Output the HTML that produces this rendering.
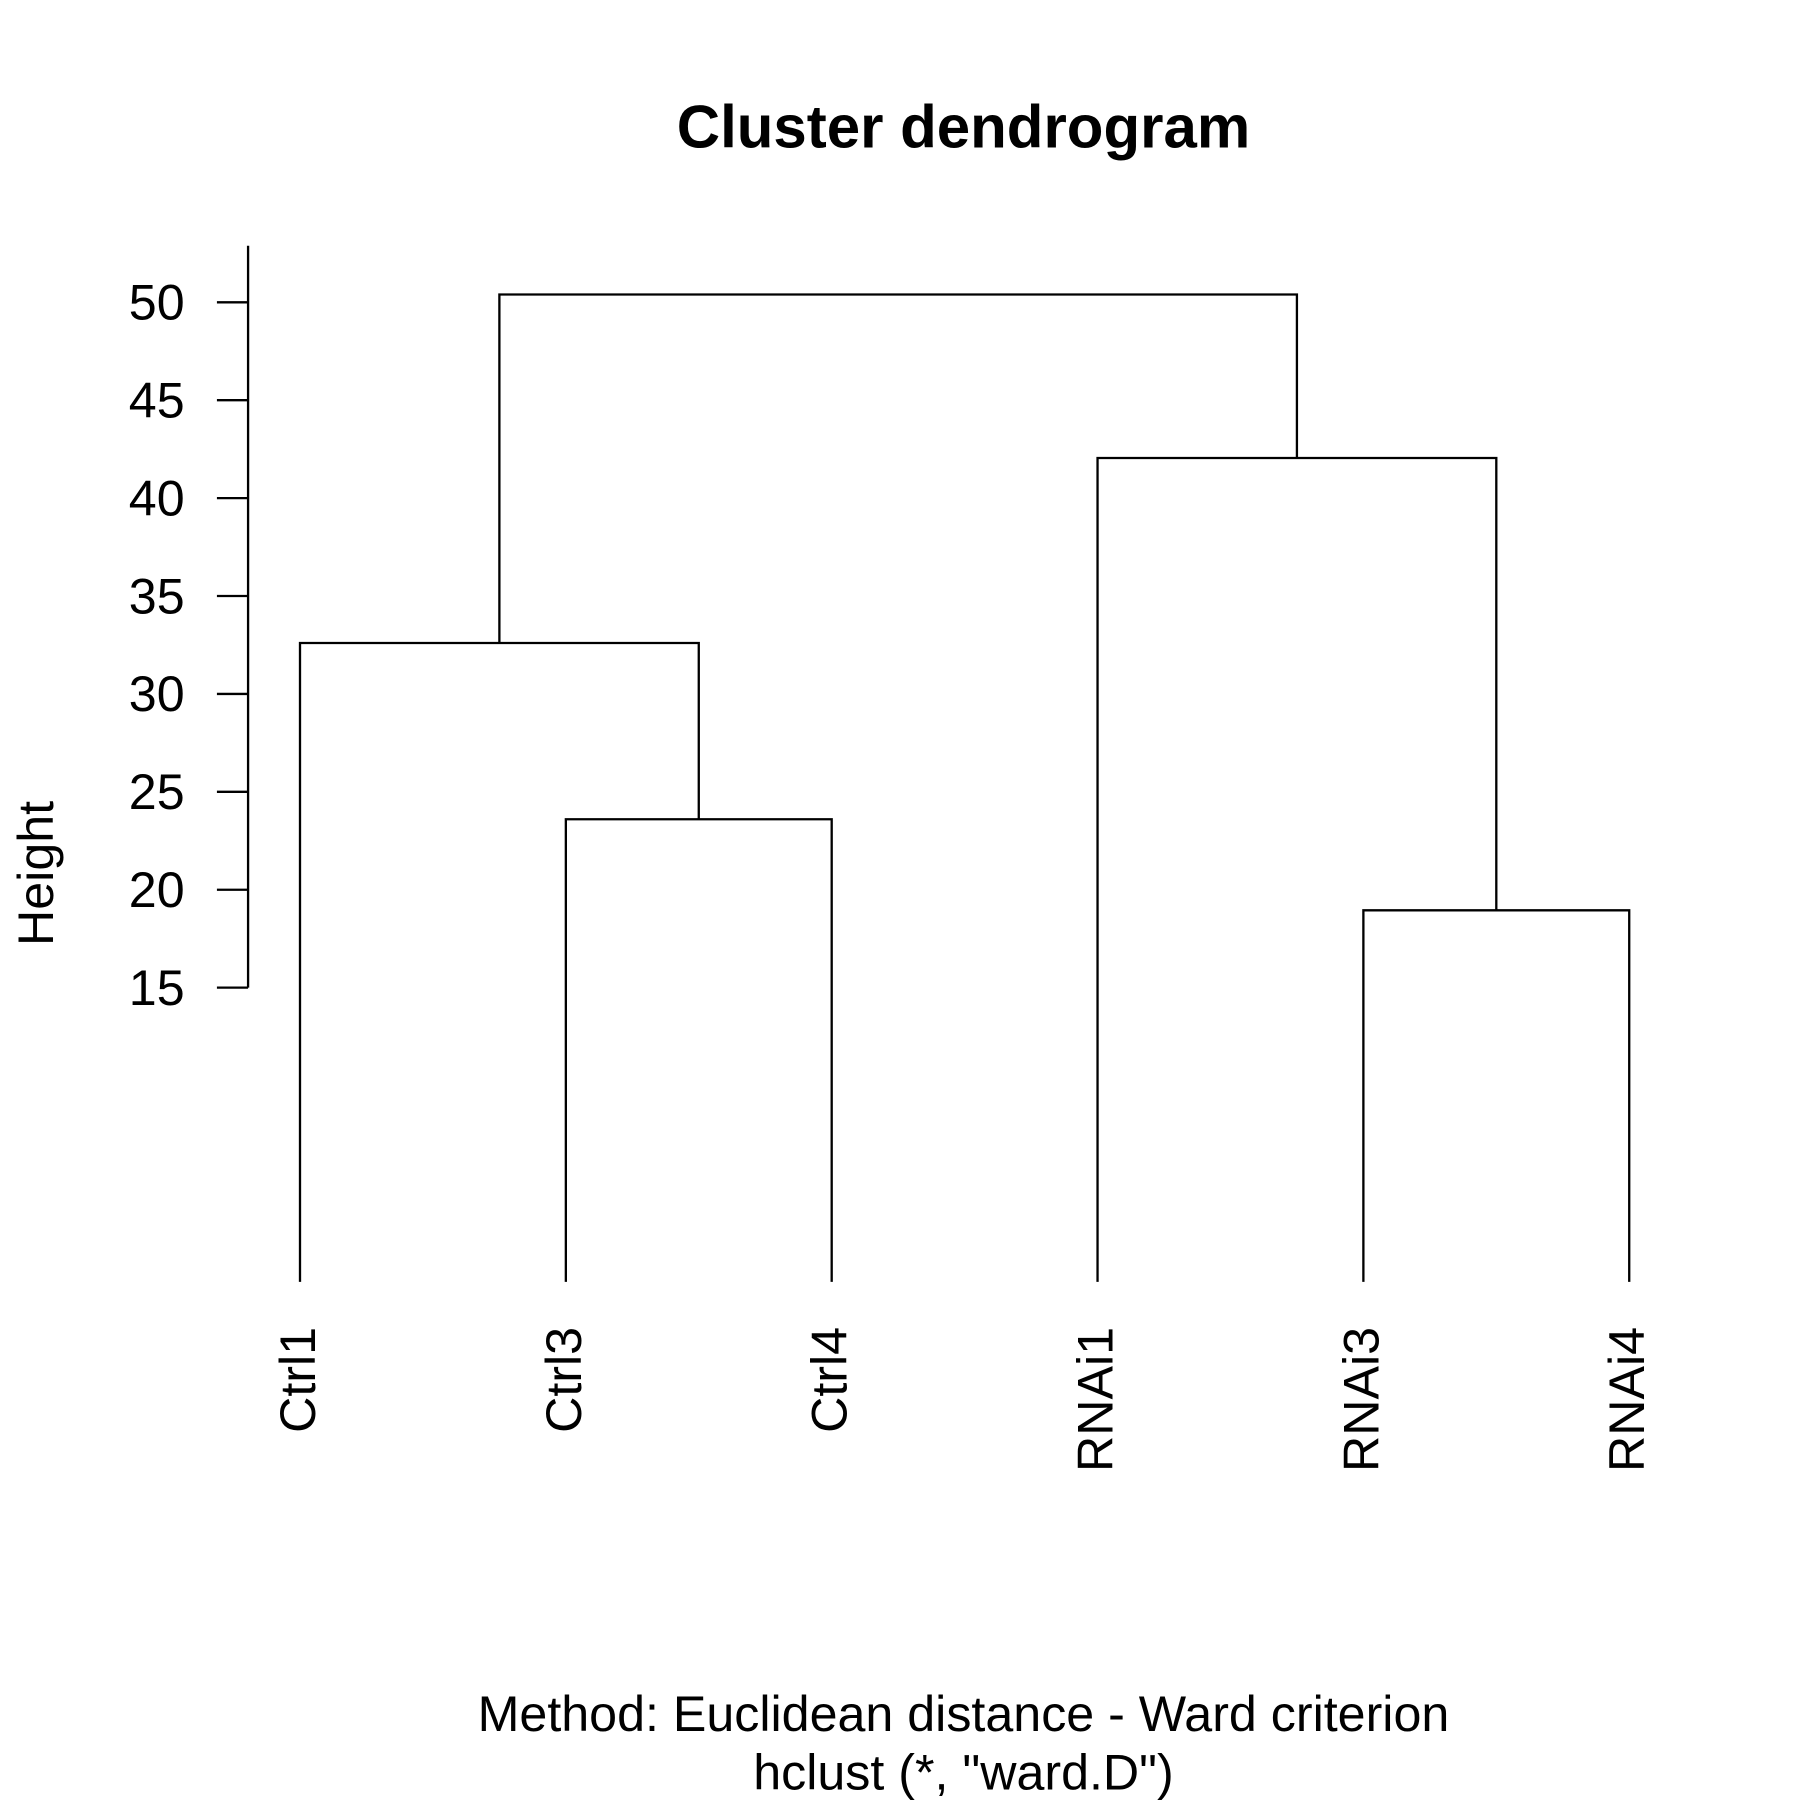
<!DOCTYPE html>
<html><head><meta charset="utf-8"><style>
html,body{margin:0;padding:0;background:#fff}
svg{display:block}
text{font-family:"Liberation Sans",Arial,sans-serif;fill:#000}
</style></head><body>
<svg id="chart" width="1800" height="1800" viewBox="0 0 1560 1560" xmlns="http://www.w3.org/2000/svg">
<rect width="1560" height="1560" fill="#fff"/>
<text x="835" y="128" font-size="52" font-weight="bold" text-anchor="middle">Cluster dendrogram</text>
<text x="835" y="1500" font-size="43.5" text-anchor="middle">Method: Euclidean distance - Ward criterion</text>
<text x="835" y="1551" font-size="43.5" text-anchor="middle">hclust (*, "ward.D")</text>
<text transform="translate(46,757) rotate(-90)" font-size="43.5" text-anchor="middle">Height</text>
<g id="axis"></g>
<g id="tree"></g>
<g id="labels"></g>
</svg>
<script>
const leaves = ["Ctrl1","Ctrl3","Ctrl4","RNAi1","RNAi3","RNAi4"];
const yTicks = [15,20,25,30,35,40,45,50];
// merges: [leftNode, rightNode, height]; leaf nodes are indices 0..5, merged nodes are 6+
const mergeLeft = [1, 4, 0, 3, 6+2];
const mergeRight = [2, 5, 6+0, 6+1, 6+3];
const mergeHeight = [23.6, 18.95, 32.6, 42.05, 50.4];

const NS = "http://www.w3.org/2000/svg";
const X0 = 260, XSTEP = 230.4;
const Y50 = 262, PX_PER_UNIT = 16.97;
function xScale(i){ return X0 + i*XSTEP; }
function yScale(v){ return Y50 + (50 - v)*PX_PER_UNIT; }
function mk(tag, attrs, parent){
  const e = document.createElementNS(NS, tag);
  for (const k in attrs) e.setAttribute(k, attrs[k]);
  parent.appendChild(e);
  return e;
}
const axis = document.getElementById('axis');
const tree = document.getElementById('tree');
const labels = document.getElementById('labels');
const AX = 215;
const axLine = mk('line', {x1:AX, x2:AX, y1:213, y2:yScale(yTicks[0]), stroke:'#000','stroke-width':2}, axis);


yTicks.forEach(v => {
  const t = mk('line', {x1:AX-27, x2:AX, y1:yScale(v), y2:yScale(v), stroke:'#000','stroke-width':2}, axis);
  
  
  const l = mk('text', {x:160, y:yScale(v)+15, 'font-size':43.5, 'text-anchor':'end'}, axis);
  l.textContent = String(v);
  
  
});
// node positions
const nodeX = leaves.map((_, i) => xScale(i));
const nodeY = leaves.map(() => yScale(0) + 0);
const leafBottom = 1111;
for (let i = 0; i < leaves.length; i++) nodeY[i] = leafBottom;
for (let m = 0; m < mergeHeight.length; m++) {
  const a = mergeLeft[m], b = mergeRight[m];
  const y = yScale(mergeHeight[m]);
  const d = `M${nodeX[a]},${nodeY[a]} V${y} H${nodeX[b]} V${nodeY[b]}`;
  const p = mk('path', {d:d, fill:'none', stroke:'#000', 'stroke-width':2}, tree);
  
  
  nodeX.push((nodeX[a] + nodeX[b]) / 2);
  nodeY.push(y);
}
leaves.forEach((name, i) => {
  const x = xScale(i) + 13, y = 1150;
  const t = mk('text', {transform:`translate(${x},${y}) rotate(-90)`, 'font-size':43.5, 'text-anchor':'end'}, labels);
  t.textContent = name;
  
  
});
</script>
</body></html>
